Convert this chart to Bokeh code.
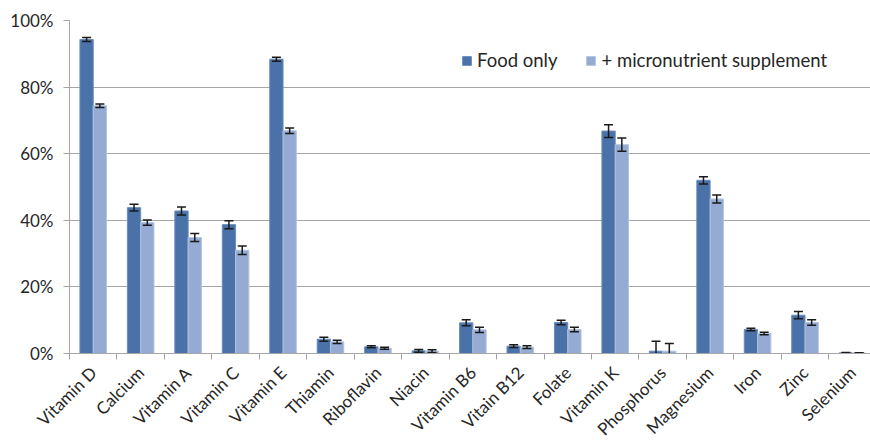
import numpy as np
from math import pi
from bokeh.plotting import figure
from bokeh.models import (Range1d, FixedTicker, PrintfTickFormatter, Legend, LegendItem,
                          ColumnDataSource)
from bokeh.embed import file_html
from bokeh.resources import INLINE

categories = ["Vitamin D", "Calcium", "Vitamin A", "Vitamin C", "Vitamin E", "Thiamin",
              "Riboflavin", "Niacin", "Vitamin B6", "Vitain B12", "Folate", "Vitamin K",
              "Phosphorus", "Magnesium", "Iron", "Zinc", "Selenium"]
food = [94.3, 43.8, 42.8, 38.7, 88.4, 4.3, 2.0, 0.8, 9.2, 2.2, 9.3, 66.8, 0.7, 52.0, 7.2, 11.5, 0.2]
food_err = [0.6, 1.0, 1.2, 1.2, 0.6, 0.6, 0.3, 0.4, 0.9, 0.4, 0.7, 1.9, 3.0, 1.1, 0.4, 1.1, 0.1]
supp = [74.4, 39.3, 34.8, 31.0, 66.9, 3.5, 1.6, 0.7, 7.1, 1.9, 7.2, 62.7, 0.7, 46.4, 6.0, 9.3, 0.15]
supp_err = [0.5, 0.8, 1.2, 1.3, 0.8, 0.5, 0.3, 0.4, 0.8, 0.4, 0.7, 2.0, 2.3, 1.2, 0.4, 0.8, 0.1]
y_ticks = [0, 20, 40, 60, 80, 100]

FONT = "Lato"
TXT = "#262626"
GRID = "#a6a6a6"
DARK = "#4a72a8"
LIGHT = "#95abd3"
BW = 0.28

idx = np.arange(len(categories))
food_x = idx + 0.5 - BW / 2
supp_x = idx + 0.5 + BW / 2

p = figure(frame_width=801, frame_height=333, output_backend="svg", toolbar_location=None,
           x_range=Range1d(0, 16.88), y_range=Range1d(0, 100),
           min_border_left=69, min_border_right=0, min_border_top=20, min_border_bottom=91)
p.outline_line_color = None
p.background_fill_color = "white"
p.border_fill_color = "white"

src_f = ColumnDataSource(dict(x=food_x, top=food, lo=np.array(food) - np.array(food_err),
                              hi=np.array(food) + np.array(food_err)))
src_s = ColumnDataSource(dict(x=supp_x, top=supp, lo=np.array(supp) - np.array(supp_err),
                              hi=np.array(supp) + np.array(supp_err)))

rf = p.vbar(x="x", top="top", width=BW, bottom=0, source=src_f, fill_color=DARK,
            line_color="#6a8cbb", line_width=1)
rs = p.vbar(x="x", top="top", width=BW, bottom=0, source=src_s, fill_color=LIGHT,
            line_color="#b3c3e0", line_width=1)

for src in (src_f, src_s):
    p.segment(x0="x", x1="x", y0="lo", y1="hi", source=src, line_color="#1a1a1a", line_width=1.5)
    p.scatter(x="x", y="lo", marker="dash", size=9, source=src, line_color="#1a1a1a", line_width=1.5)
    p.scatter(x="x", y="hi", marker="dash", size=9, source=src, line_color="#1a1a1a", line_width=1.5)

# y axis
yax = p.yaxis[0]
yax.ticker = FixedTicker(ticks=y_ticks)
yax.formatter = PrintfTickFormatter(format="%d%%")
yax.axis_line_color = GRID
yax.major_tick_line_color = GRID
yax.major_tick_out = 6
yax.major_tick_in = 0
yax.minor_tick_line_color = None
yax.major_label_text_font = FONT
yax.major_label_text_font_size = "17px"
yax.major_label_text_color = TXT
yax.major_label_standoff = 10

# x axis
xax = p.xaxis[0]
xax.ticker = FixedTicker(ticks=list(idx + 0.5), minor_ticks=list(range(len(categories) + 1)))
xax.major_label_overrides = {float(i + 0.5): c for i, c in enumerate(categories)}
xax.major_tick_line_color = None
xax.minor_tick_line_color = GRID
xax.minor_tick_out = 6
xax.minor_tick_in = 0
xax.axis_line_color = GRID
xax.major_label_orientation = pi / 4
xax.major_label_text_font = FONT
xax.major_label_text_font_size = "17px"
xax.major_label_text_color = TXT
xax.major_label_standoff = 10

p.xgrid.grid_line_color = None
p.ygrid.ticker = FixedTicker(ticks=y_ticks)
p.ygrid.grid_line_color = GRID
p.ygrid.grid_line_width = 1

legend = Legend(items=[LegendItem(label="Food only", renderers=[rf]),
                       LegendItem(label="+ micronutrient supplement", renderers=[rs])],
                orientation="horizontal", location=(392, 282),
                border_line_color=None, background_fill_alpha=0,
                padding=0, margin=0, spacing=28, label_standoff=5,
                glyph_width=11, glyph_height=11, label_height=20,
                label_text_font=FONT, label_text_font_size="18.5px", label_text_color=TXT)
p.add_layout(legend)

open("out.html", "w").write(file_html(p, INLINE))
